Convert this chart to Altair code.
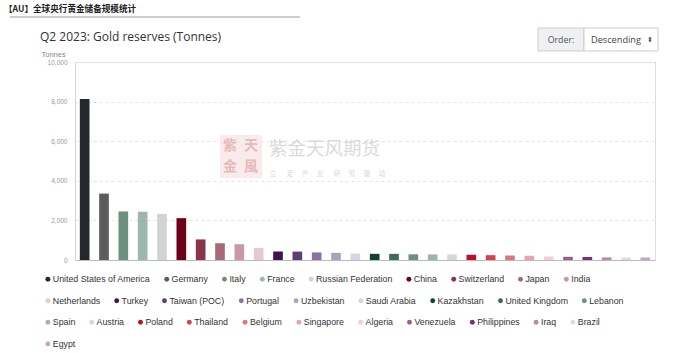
import altair as alt
import pandas as pd

countries = [
    "United States of America", "Germany", "Italy", "France", "Russian Federation",
    "China", "Switzerland", "Japan", "India",
    "Netherlands", "Turkey", "Taiwan (POC)", "Portugal", "Uzbekistan", "Saudi Arabia",
    "Kazakhstan", "United Kingdom", "Lebanon",
    "Spain", "Austria", "Poland", "Thailand", "Belgium", "Singapore", "Algeria",
    "Venezuela", "Philippines", "Iraq", "Brazil",
    "Egypt",
]
tonnes = [
    8133, 3353, 2452, 2437, 2330, 2113, 1040, 846, 797,
    612, 430, 424, 383, 360, 323, 312, 310, 287,
    282, 280, 265, 244, 227, 215, 174, 161, 156, 131, 130,
    127,
]
colors = [
    "#24282b", "#5c5c5c", "#6c8f7f", "#9db7ad", "#d3d3d3", "#6c0019", "#8b3449", "#a76978", "#c798a5",
    "#e6c8cf", "#3b1457", "#5e3c7c", "#8a72a3", "#ae9fc0", "#d9d3e3", "#0c4430", "#3d6a58", "#6c8f7f",
    "#9db5aa", "#cfdcd6", "#c00d2a", "#d4424f", "#e0737e", "#e9a3ab", "#f4ccd3", "#9b5d8b", "#7e2d6e",
    "#b689b1", "#e8d8e6",
    "#c6a4c7",
]
legend_rows = [9, 9, 11, 1]
y_ticks = [0, 2000, 4000, 6000, 8000, 10000]

header = "【AU】全球央行黄金储备规模统计"
chart_title = "Q2 2023: Gold reserves (Tonnes)"
wm_main = "紫金天风期货"
wm_sub_chars = ["立", "足", "产", "业", "研", "究", "驱", "动"]

df = pd.DataFrame({"country": countries, "tonnes": tonnes})

W, H = 580, 198
OX, OY = 75, 62  # plot origin inside the canvas

x_enc = alt.X(
    "country:N", sort=countries,
    scale=alt.Scale(domain=countries, paddingInner=0.5, paddingOuter=0.25),
    axis=alt.Axis(labels=False, ticks=False, title=None, grid=False,
                  domainColor="#bbbbbb", domainWidth=1),
)
y_enc = alt.Y(
    "tonnes:Q", scale=alt.Scale(domain=[0, 10000], nice=False),
    axis=alt.Axis(values=y_ticks, format=",.0f", labelFontSize=6.5, labelColor="#999999",
                  labelFont="Liberation Sans", labelPadding=8, ticks=False,
                  domainColor="#d4d4d4", gridDash=[3, 3], gridColor="#e4e4e4",
                  title="Tonnes", titleAngle=0, titleX=-34, titleY=-8,
                  titleAlign="left", titleBaseline="middle", titleFontSize=7.5,
                  titleFontWeight="normal", titleColor="#888888",
                  titleFont="Liberation Sans"),
)

row_y = [212.5, 234, 255.5, 277.5]
layers = []
start = 0
for i, n in enumerate(legend_rows):
    sub_c = countries[start:start + n]
    sub_col = colors[start:start + n]
    start += n
    layer = alt.Chart(df).transform_filter(
        alt.FieldOneOfPredicate(field="country", oneOf=sub_c)
    ).mark_bar().encode(
        x=x_enc,
        y=y_enc,
        color=alt.Color(
            "country:N",
            scale=alt.Scale(domain=sub_c, range=sub_col),
            sort=sub_c,
            legend=alt.Legend(
                orient="none", legendX=-31.5, legendY=row_y[i], direction="horizontal",
                title=None, symbolType="circle", symbolSize=24, symbolStrokeWidth=0,
                labelFontSize=8.8, labelFont="Liberation Sans", labelColor="#333333",
                labelOffset=0.5, columnPadding=11.8, padding=0, columns=n,
            ),
        ),
    )
    layers.append(layer)

one = pd.DataFrame({"k": [0]})

header_text = alt.Chart(pd.DataFrame({"t": [header]})).mark_text(
    align="left", baseline="middle", font="Noto Sans CJK SC", fontWeight="bold",
    fontSize=8.6, color="#222222",
).encode(x=alt.value(4 - OX), y=alt.value(9 - OY), text="t:N")

header_rule = alt.Chart(one).mark_rule(color="#9a9a9a", strokeWidth=1).encode(
    x=alt.value(10 - OX), x2=alt.value(300 - OX), y=alt.value(17 - OY)
)

title_text = alt.Chart(pd.DataFrame({"t": [chart_title]})).mark_text(
    align="left", baseline="middle", font="Open Sans", fontSize=12, color="#333333",
).encode(x=alt.value(40 - OX), y=alt.value(37 - OY), text="t:N")

box_left = alt.Chart(one).mark_rect(fill="#eef0f3", stroke="#cccccc", strokeWidth=1).encode(
    x=alt.value(538 - OX), x2=alt.value(584 - OX), y=alt.value(28 - OY), y2=alt.value(51 - OY)
)
box_right = alt.Chart(one).mark_rect(fill="#ffffff", stroke="#cccccc", strokeWidth=1).encode(
    x=alt.value(584 - OX), x2=alt.value(658 - OX), y=alt.value(28 - OY), y2=alt.value(51 - OY)
)
order_lbl = alt.Chart(pd.DataFrame({"t": ["Order:"]})).mark_text(
    align="center", baseline="middle", font="Open Sans", fontSize=8.8, color="#555555",
).encode(x=alt.value(561 - OX), y=alt.value(39.5 - OY), text="t:N")
order_val = alt.Chart(pd.DataFrame({"t": ["Descending"]})).mark_text(
    align="left", baseline="middle", font="Open Sans", fontSize=9.2, color="#444444",
).encode(x=alt.value(591 - OX), y=alt.value(39.5 - OY), text="t:N")
order_arrow = alt.Chart(pd.DataFrame({"t": ["⬍"]})).mark_text(
    align="center", baseline="middle", font="DejaVu Sans", fontSize=7, color="#555555",
).encode(x=alt.value(650 - OX), y=alt.value(39.5 - OY), text="t:N")

wm_logo = alt.Chart(one).mark_rect(fill="#f7e6e6", opacity=0.8, cornerRadius=2).encode(
    x=alt.value(220 - OX), x2=alt.value(262 - OX), y=alt.value(135 - OY), y2=alt.value(178 - OY)
)
wm_logo_txt = alt.Chart(pd.DataFrame({
    "t": ["紫", "天", "金", "風"],
    "xx": [230 - OX, 251 - OX, 230 - OX, 251 - OX],
    "yy": [146 - OY, 146 - OY, 167 - OY, 167 - OY],
})).mark_text(
    align="center", baseline="middle", font="Noto Sans CJK SC", fontWeight="bold",
    fontSize=14, color="#e2b2b2", opacity=0.85,
).encode(x=alt.X("xx:Q", scale=None), y=alt.Y("yy:Q", scale=None), text="t:N")
wm_text = alt.Chart(pd.DataFrame({"t": [wm_main]})).mark_text(
    align="left", baseline="middle", font="Noto Sans CJK SC", fontSize=18.5,
    color="#d2d2d2", opacity=0.8,
).encode(x=alt.value(269 - OX), y=alt.value(149 - OY), text="t:N")
wm_sub = alt.Chart(pd.DataFrame({
    "t": wm_sub_chars,
    "xx": [273 - OX, 290 - OX, 305 - OX, 320 - OX, 337 - OX, 352 - OX, 367 - OX, 382 - OX],
})).mark_text(
    align="center", baseline="middle", font="Noto Sans CJK SC", fontSize=6.5,
    color="#cfcfcf", opacity=0.85,
).encode(x=alt.X("xx:Q", scale=None), y=alt.value(174 - OY), text="t:N")

chart = alt.layer(
    wm_logo, wm_logo_txt, wm_text, wm_sub,
    *layers,
    header_text, header_rule, title_text,
    box_left, box_right, order_lbl, order_val, order_arrow,
).resolve_scale(color="independent").properties(
    width=W, height=H,
    autosize=alt.AutoSizeParams(type="none"),
    padding={"left": OX, "top": OY, "right": 700 - OX - W, "bottom": 353 - OY - H},
).configure_view(stroke=None).configure(background="#ffffff")

chart.save("out.html", embed_options={"renderer": "svg", "actions": False})
